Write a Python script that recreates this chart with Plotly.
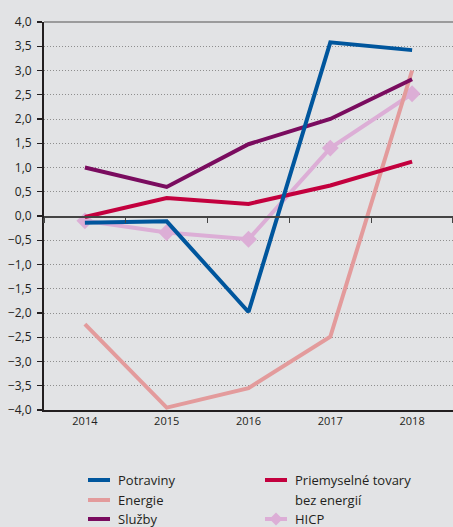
import plotly.graph_objects as go

years = ["2014", "2015", "2016", "2017", "2018"]
potraviny = [-0.14, -0.11, -1.98, 3.58, 3.42]
energie = [-2.23, -3.95, -3.55, -2.49, 3.0]
sluzby = [1.0, 0.6, 1.48, 2.0, 2.82]
priemyselne = [-0.02, 0.37, 0.25, 0.63, 1.12]
hicp = [-0.1, -0.34, -0.48, 1.4, 2.52]

y_ticks = [-4, -3.5, -3, -2.5, -2, -1.5, -1, -0.5, 0, 0.5, 1, 1.5, 2, 2.5, 3, 3.5, 4]

colors = {
    "Potraviny": "#00569d",
    "Energie": "#e39b9c",
    "Služby": "#7a0c5f",
    "Priemyselné": "#c3003e",
    "HICP": "#dcaed6",
}

BG = "#e2e3e5"
TXT = "#231f20"
FONT = "Open Sans"

fig = go.Figure()
# drawing order: HICP at bottom
fig.add_trace(go.Scatter(x=years, y=hicp, mode="lines+markers", name="HICP",
                         line=dict(color=colors["HICP"], width=4),
                         marker=dict(symbol="diamond", size=13, color=colors["HICP"])))
fig.add_trace(go.Scatter(x=years, y=energie, mode="lines", name="Energie",
                         line=dict(color=colors["Energie"], width=4)))
fig.add_trace(go.Scatter(x=years, y=sluzby, mode="lines", name="Služby",
                         line=dict(color=colors["Služby"], width=4)))
fig.add_trace(go.Scatter(x=years, y=priemyselne, mode="lines", name="Priemyselné tovary bez energií",
                         line=dict(color=colors["Priemyselné"], width=4)))
fig.add_trace(go.Scatter(x=years, y=potraviny, mode="lines", name="Potraviny",
                         line=dict(color=colors["Potraviny"], width=4)))
# dummy trace for the zero-line axis
fig.add_trace(go.Scatter(x=years, y=[None] * len(years), xaxis="x2", mode="lines",
                         showlegend=False, hoverinfo="skip"))

W, H = 453, 527
L, R, T, B = 44, 0, 22, 117
pw, ph = W - L - R, H - T - B

def px(x):
    return (x - L) / pw

def py(y):
    return (H - B - y) / ph

shapes = [
    dict(type="line", xref="paper", yref="paper", x0=0, x1=1, y0=1, y1=1,
         line=dict(color="#555555", width=1.2)),
]
annotations = []

legend_items = [
    ("Potraviny", colors["Potraviny"], 88, 480, False),
    ("Energie", colors["Energie"], 88, 500, False),
    ("Služby", colors["Služby"], 88, 519, False),
    ("Priemyselné tovary", colors["Priemyselné"], 265, 480, False),
    ("HICP", colors["HICP"], 265, 519, True),
]
for label, col, x0, yy, diamond in legend_items:
    shapes.append(dict(type="line", xref="paper", yref="paper",
                       x0=px(x0), x1=px(x0 + 22), y0=py(yy), y1=py(yy),
                       line=dict(color=col, width=4)))
    if diamond:
        cx, d = x0 + 11, 6.5
        path = "M {} {} L {} {} L {} {} L {} {} Z".format(
            px(cx), py(yy - d), px(cx + d), py(yy), px(cx), py(yy + d), px(cx - d), py(yy))
        shapes.append(dict(type="path", xref="paper", yref="paper", path=path,
                           fillcolor=col, line=dict(width=0)))
    annotations.append(dict(xref="paper", yref="paper", x=px(x0 + 28), y=py(yy),
                            text=label, showarrow=False, xanchor="left", yanchor="middle",
                            font=dict(family=FONT, size=13, color=TXT)))
annotations.append(dict(xref="paper", yref="paper", x=px(265 + 28), y=py(500),
                        text="bez energií", showarrow=False, xanchor="left", yanchor="middle",
                        font=dict(family=FONT, size=13, color=TXT)))

fig.update_layout(
    width=W, height=H,
    margin=dict(l=L, r=R, t=T, b=B, pad=0),
    paper_bgcolor=BG, plot_bgcolor=BG,
    separators=", ",
    showlegend=False,
    hovermode=False,
    font=dict(family=FONT, color=TXT),
    xaxis=dict(type="category", categoryorder="array", categoryarray=years,
               range=[-0.5, 4.5], showline=True, linecolor=TXT, linewidth=2,
               ticks="", showgrid=False, zeroline=False,
               tickfont=dict(family=FONT, size=11, color=TXT)),
    xaxis2=dict(type="category", categoryorder="array", categoryarray=years,
                range=[-0.5, 4.5], overlaying="x", anchor="free", position=0.5,
                side="bottom", showline=True, linecolor="#444444", linewidth=1.5,
                ticks="outside", ticklen=5, tickwidth=1.2, tickcolor="#444444",
                tickson="boundaries", showticklabels=False, showgrid=False, zeroline=False),
    yaxis=dict(range=[-4, 4], tickvals=y_ticks, tickformat=".1f",
               showline=True, linecolor=TXT, linewidth=2,
               ticks="outside", ticklen=5, tickwidth=1.2, tickcolor=TXT,
               showgrid=True, gridcolor="#8e8e8e", gridwidth=1, griddash="1px,2px",
               zeroline=False, ticklabelstandoff=3,
               tickfont=dict(family=FONT, size=12, color=TXT)),
    shapes=shapes,
    annotations=annotations,
)

fig.write_html("out.html",
               config={"displayModeBar": False, "staticPlot": True},
               post_script="document.body.style.margin='0px';document.body.style.overflow='hidden';")
